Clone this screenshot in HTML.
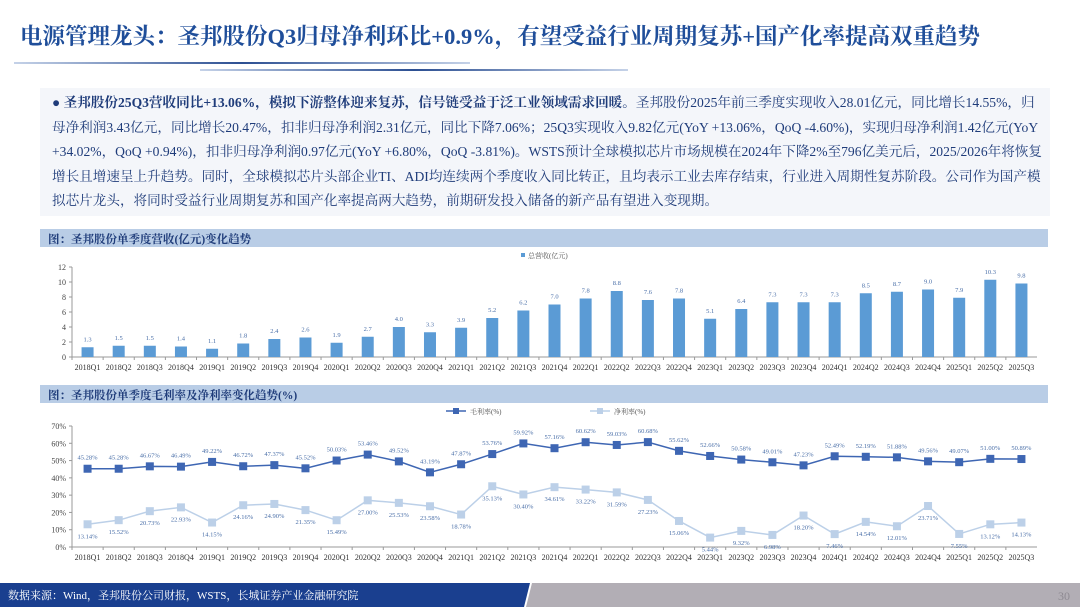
<!DOCTYPE html>
<html><head><meta charset="utf-8">
<style>
*{margin:0;padding:0;box-sizing:border-box}
body{width:1080px;height:607px;overflow:hidden;background:#fff;font-family:"Liberation Serif","Noto Serif CJK SC",serif;position:relative}
#title{position:absolute;left:20px;top:19px;font-size:22.5px;font-weight:bold;color:#1f4e9a;white-space:nowrap;letter-spacing:0}
.ln{position:absolute;height:2px}
#para{position:absolute;left:40px;top:88px;width:1010px;height:128px;background:#f4f6fa;padding:3px 0 0 12px}
#para div{font-size:13.6px;line-height:24.6px;white-space:nowrap;color:#1f3c7a}
.hdr{position:absolute;left:40px;width:1008px;height:18px;background:#b9cde6;font-size:11.5px;color:#1f3c7a;padding:2px 0 0 8px;font-weight:bold}
svg{position:absolute;left:0;top:0}
#foot{position:absolute;left:0;top:583px;width:1080px;height:24px}
</style></head><body>
<div id="title">电源管理龙头：圣邦股份Q3归母净利环比+0.9%，有望受益行业周期复苏+国产化率提高双重趋势</div>
<div class="ln" style="left:14px;top:62px;width:456px;background:linear-gradient(90deg,#c5d2e8,#2c4f92,#c5d2e8)"></div>
<div class="ln" style="left:200px;top:69px;width:428px;background:linear-gradient(90deg,#c5d2e8,#2c4f92,#c5d2e8)"></div>
<div id="para">
<div><b>● 圣邦股份25Q3营收同比+13.06%，模拟下游整体迎来复苏，信号链受益于泛工业领域需求回暖。</b>圣邦股份2025年前三季度实现收入28.01亿元，同比增长14.55%，归</div>
<div>母净利润3.43亿元，同比增长20.47%，扣非归母净利润2.31亿元，同比下降7.06%；25Q3实现收入9.82亿元(YoY +13.06%，QoQ -4.60%)，实现归母净利润1.42亿元(YoY</div>
<div>+34.02%，QoQ +0.94%)，扣非归母净利润0.97亿元(YoY +6.80%，QoQ -3.81%)。WSTS预计全球模拟芯片市场规模在2024年下降2%至796亿美元后，2025/2026年将恢复</div>
<div>增长且增速呈上升趋势。同时，全球模拟芯片头部企业TI、ADI均连续两个季度收入同比转正，且均表示工业去库存结束，行业进入周期性复苏阶段。公司作为国产模</div>
<div>拟芯片龙头，将同时受益行业周期复苏和国产化率提高两大趋势，前期研发投入储备的新产品有望进入变现期。</div>
</div>
<div class="hdr" style="top:229px">图：圣邦股份单季度营收(亿元)变化趋势</div>
<div class="hdr" style="top:385px">图：圣邦股份单季度毛利率及净利率变化趋势(%)</div>
<svg id="chart" width="1080" height="583"></svg>
<svg id="foot" width="1080" height="24">
<polygon points="0,0 530,0 524,24 0,24" fill="#1a3f8f"/>
<polygon points="532,0 1080,0 1080,24 526,24" fill="#b2aeb5"/>
<text x="8" y="16" font-size="11" fill="#fff" font-family="Liberation Serif,Noto Serif CJK SC,serif">数据来源：Wind，圣邦股份公司财报，WSTS，长城证券产业金融研究院</text>
<text x="1058" y="17" font-size="12" fill="#8e8a92" font-family="Liberation Serif,serif">30</text>
</svg>
<script>
const categories=["2018Q1","2018Q2","2018Q3","2018Q4","2019Q1","2019Q2","2019Q3","2019Q4","2020Q1","2020Q2","2020Q3","2020Q4","2021Q1","2021Q2","2021Q3","2021Q4","2022Q1","2022Q2","2022Q3","2022Q4","2023Q1","2023Q2","2023Q3","2023Q4","2024Q1","2024Q2","2024Q3","2024Q4","2025Q1","2025Q2","2025Q3"];
const revenue=[1.3,1.5,1.5,1.4,1.1,1.8,2.4,2.6,1.9,2.7,4.0,3.3,3.9,5.2,6.2,7.0,7.8,8.8,7.6,7.8,5.1,6.4,7.3,7.3,7.3,8.5,8.7,9.0,7.9,10.3,9.8];
const grossMargin=[45.28,45.28,46.67,46.49,49.22,46.72,47.37,45.52,50.03,53.46,49.52,43.19,47.87,53.76,59.92,57.16,60.62,59.03,60.68,55.62,52.66,50.58,49.01,47.23,52.49,52.19,51.88,49.56,49.07,51.00,50.89];
const netMargin=[13.14,15.52,20.73,22.93,14.15,24.16,24.90,21.35,15.49,27.00,25.53,23.58,18.78,35.13,30.40,34.61,33.22,31.59,27.23,15.06,5.44,9.32,6.98,18.20,7.46,14.54,12.01,23.71,7.55,13.12,14.13];
const revTicks=[0,2,4,6,8,10,12];
const pctTicks=[0,10,20,30,40,50,60,70];

const svg=document.getElementById('chart');
const NS='http://www.w3.org/2000/svg';
function mk(tag,attrs,txt){const e=document.createElementNS(NS,tag);for(const k in attrs)e.setAttribute(k,attrs[k]);if(txt!==undefined)e.textContent=txt;svg.appendChild(e);return e;}
const X0=72,X1=1037,n=categories.length,band=(X1-X0)/n;
const xc=i=>X0+band*(i+0.5);
const yBar=v=>357-v/12*90;
const yPct=v=>547-v/70*121;
const F='Liberation Serif,Noto Serif CJK SC,serif';

let e=mk('line',{x1:X0,y1:357,x2:X1,y2:357,stroke:'#999','stroke-width':1});

e=mk('line',{x1:X0,y1:267,x2:X0,y2:357,stroke:'#999','stroke-width':1});

revTicks.forEach(t=>{const y=yBar(t);
 e=mk('text',{x:X0-6,y:y+3,'font-size':8,'text-anchor':'end',fill:'#444','font-family':F},t);
 
 mk('line',{x1:X0-3,y1:y,x2:X0,y2:y,stroke:'#999'});});
categories.forEach((c,i)=>{
 mk('line',{x1:X0+band*i,y1:357,x2:X0+band*i,y2:360,stroke:'#999'});
 e=mk('text',{x:xc(i),y:370,'font-size':8,'text-anchor':'middle',fill:'#333','font-family':F},c);
 
 const v=revenue[i];
 e=mk('rect',{x:xc(i)-6,y:yBar(v),width:12,height:357-yBar(v),fill:'#5b9bd5'});
 
 e=mk('text',{x:xc(i),y:yBar(v)-6,'font-size':6.5,'text-anchor':'middle',fill:'#4a6fa8','font-family':F},v.toFixed(1));
 
});
e=mk('rect',{x:521,y:253,width:4,height:4,fill:'#5b9bd5'});

e=mk('text',{x:528,y:258,'font-size':7,fill:'#555','font-family':F},'总营收(亿元)');


e=mk('line',{x1:X0,y1:547,x2:X1,y2:547,stroke:'#999'});

e=mk('line',{x1:X0,y1:426,x2:X0,y2:547,stroke:'#999'});

pctTicks.forEach(t=>{const y=yPct(t);
 e=mk('text',{x:X0-6,y:y+3,'font-size':8,'text-anchor':'end',fill:'#444','font-family':F},t+'%');
 
 mk('line',{x1:X0-3,y1:y,x2:X0,y2:y,stroke:'#999'});});
categories.forEach((c,i)=>{
 mk('line',{x1:X0+band*i,y1:547,x2:X0+band*i,y2:550,stroke:'#999'});
 e=mk('text',{x:xc(i),y:560,'font-size':8,'text-anchor':'middle',fill:'#333','font-family':F},c);
 
});
function series(vals,color,name,above){
 const pts=vals.map((v,i)=>xc(i)+','+yPct(v)).join(' ');
 let p=mk('polyline',{points:pts,fill:'none',stroke:color,'stroke-width':1.5});
 
 vals.forEach((v,i)=>{
  let r=mk('rect',{x:xc(i)-4,y:yPct(v)-4,width:8,height:8,fill:color});
  
  let t=mk('text',{x:xc(i),y:above?yPct(v)-9:yPct(v)+14,'font-size':6.5,'text-anchor':'middle',fill:'#4a6fa8','font-family':F},v.toFixed(2)+'%');
  
 });
}
series(netMargin,'#bcd0e8','net-margin',false);
series(grossMargin,'#3e66b3','gross-margin',true);
e=mk('line',{x1:446,y1:411,x2:466,y2:411,stroke:'#3e66b3','stroke-width':1.5});

mk('rect',{x:453,y:408,width:6,height:6,fill:'#3e66b3'});
e=mk('text',{x:470,y:414,'font-size':7,fill:'#555','font-family':F},'毛利率(%)');

e=mk('line',{x1:590,y1:411,x2:610,y2:411,stroke:'#bcd0e8','stroke-width':1.5});

mk('rect',{x:597,y:408,width:6,height:6,fill:'#bcd0e8'});
e=mk('text',{x:614,y:414,'font-size':7,fill:'#555','font-family':F},'净利率(%)');

</script>
</body></html>
